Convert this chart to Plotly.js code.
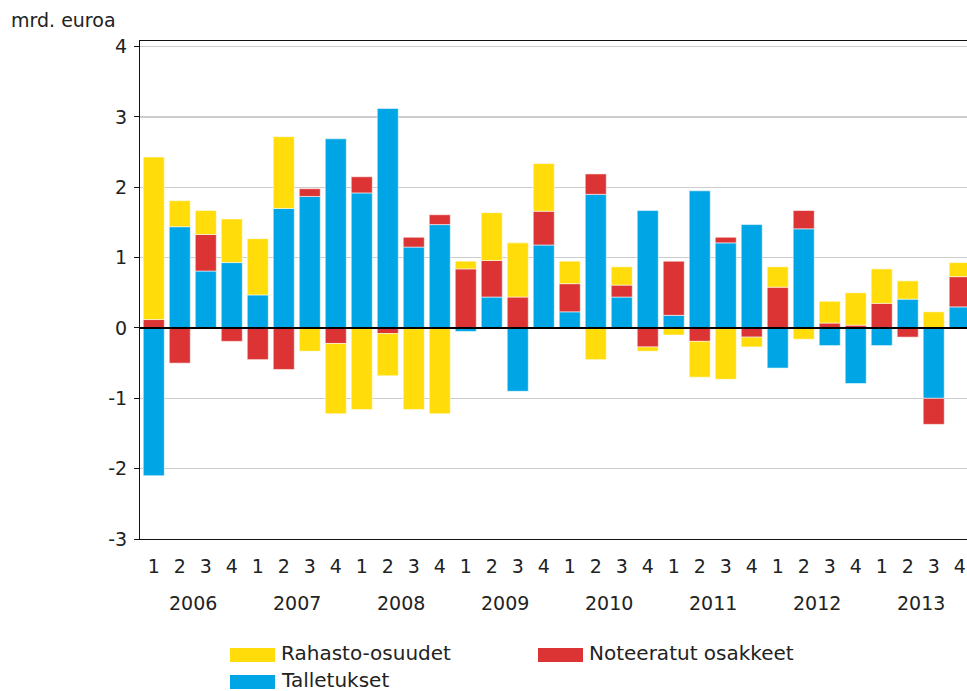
<!DOCTYPE html>
<html>
<head>
<meta charset="utf-8">
<script src="https://cdn.plot.ly/plotly-3.0.1.min.js"></script>
<style>html,body{margin:0;padding:0;background:#fff;overflow:hidden;}#chart{width:967px;height:691px;}</style>
</head>
<body>
<div id="chart"></div>
<script>
// Categories
const years = ["2006","2007","2008","2009","2010","2011","2012","2013"];
const quarters = ["1","2","3","4"];
// Series values (mrd. euroa), 2006Q1 ... 2013Q4
const talletukset = [-2.10,1.44,0.81,0.93, 0.47,1.70,1.87,2.69, 1.92,3.12,1.15,1.47, -0.05,0.44,-0.90,1.18,
                     0.23,1.90,0.44,1.67, 0.18,1.95,1.21,1.47, -0.57,1.41,-0.25,-0.79, -0.25,0.41,-1.00,0.30];
const noteeratut = [0.12,-0.50,0.52,-0.19, -0.45,-0.59,0.11,-0.22, 0.23,-0.08,0.14,0.14, 0.84,0.52,0.44,0.48,
                    0.40,0.29,0.17,-0.27, 0.77,-0.19,0.08,-0.13, 0.58,0.26,0.07,0.04, 0.35,-0.13,-0.37,0.43];
const rahasto = [2.31,0.37,0.34,0.62, 0.80,1.02,-0.33,-1.00, -1.16,-0.60,-1.16,-1.22, 0.11,0.68,0.77,0.68,
                 0.32,-0.45,0.26,-0.06, -0.10,-0.51,-0.73,-0.14, 0.29,-0.16,0.31,0.46, 0.49,0.26,0.23,0.20];
const seriesNames = ["Talletukset","Noteeratut osakkeet","Rahasto-osuudet"];
const seriesColors = ["#00A5E6","#DC3434","#FFDC0A"];
const yTickVals = [-3,-2,-1,0,1,2,3,4];
const yTickText = ["-3","-2","-1","0","1","2","3","4"];
const yUnit = "mrd. euroa";

const xIdx = [], xText = [];
years.forEach((y,i)=>quarters.forEach((q,j)=>{xIdx.push(i*4+j); xText.push(q);}));

const seriesValues = [talletukset, noteeratut, rahasto];
const traces = seriesValues.map((vals,i)=>({
  type:"bar", x:xIdx, y:vals, name:seriesNames[i],
  marker:{color:seriesColors[i], line:{color:"rgba(255,255,255,0.55)", width:1}},
  hoverinfo:"x+y+name"
}));

const W=967,H=691, L=140, R=0, T=41, B=152;
const pw=W-L-R, ph=H-T-B;
const px2x = p => (p-L)/pw;
const px2y = p => (H-B-p)/ph;
const FONT = "DejaVu Sans, Verdana, sans-serif";

const annotations = [];
const shapes = [];
annotations.push({xref:"paper",yref:"paper",x:px2x(10),y:px2y(20),xanchor:"left",yanchor:"middle",
  text:yUnit,showarrow:false,borderpad:0,font:{family:FONT,size:19,color:"#222"}});
years.forEach((y,i)=>annotations.push({xref:"x",yref:"paper",x:i*4+1.5,y:px2y(603),xanchor:"center",yanchor:"middle",
  text:y,showarrow:false,borderpad:0,font:{family:FONT,size:19,color:"#222"}}));

// Legend (manual, two columns): Rahasto-osuudet, Noteeratut osakkeet / Talletukset
const legendItems = [
  {i:2, sx:230, cy:655},
  {i:1, sx:538, cy:655},
  {i:0, sx:230, cy:682}
];
legendItems.forEach(it=>{
  shapes.push({type:"rect",xref:"paper",yref:"paper",x0:px2x(it.sx),x1:px2x(it.sx+45),
    y0:px2y(it.cy-7),y1:px2y(it.cy+7),fillcolor:seriesColors[it.i],line:{width:0}});
  annotations.push({xref:"paper",yref:"paper",x:px2x(it.sx+50),y:px2y(it.cy-2),xanchor:"left",yanchor:"middle",
    text:seriesNames[it.i],showarrow:false,borderpad:0,font:{family:FONT,size:20,color:"#222"}});
});

const layout = {
  width:W,height:H,margin:{l:L,r:R,t:T,b:B,pad:0},
  paper_bgcolor:"#fff",plot_bgcolor:"#fff",
  barmode:"relative",bargap:0.19,showlegend:false,
  font:{family:FONT,color:"#222"},
  xaxis:{range:[-0.53,31.28],tickvals:xIdx,ticktext:xText,ticks:"",showgrid:false,zeroline:false,
    showline:true,linecolor:"#111",linewidth:1,mirror:true,tickfont:{family:FONT,size:19,color:"#222"},
    ticklabelstandoff:10,fixedrange:true},
  yaxis:{range:[-3,4.08],tickvals:yTickVals,ticktext:yTickText,ticks:"outside",ticklen:5,tickcolor:"#111",
    showline:true,linecolor:"#111",linewidth:1,showgrid:true,gridcolor:"#cccccc",gridwidth:1.5,
    zeroline:true,zerolinecolor:"#000",zerolinewidth:2,zerolinelayer:"above traces",
    tickfont:{family:FONT,size:19,color:"#222"},ticklabelstandoff:3,fixedrange:true},
  annotations:annotations,shapes:shapes
};
Plotly.newPlot("chart",traces,layout,{staticPlot:true,displayModeBar:false});
</script>
</body>
</html>
